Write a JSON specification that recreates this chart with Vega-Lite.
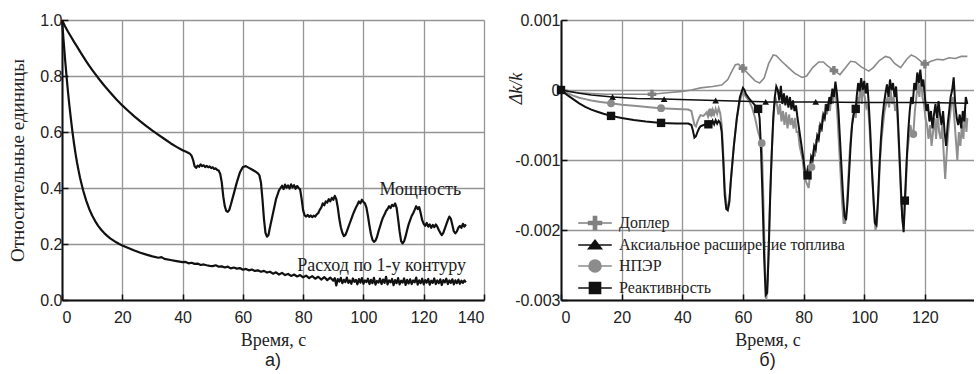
{
  "$schema": "https://vega.github.io/schema/vega-lite/v6.json",
  "background": "white",
  "padding": {"left": 8, "top": 12, "right": 0, "bottom": 0},
  "spacing": 77,
  "bounds": "flush",
  "config": {
    "view": {"stroke": null},
    "axis": {
      "grid": true, "gridColor": "#959595", "gridWidth": 1.3,
      "domainColor": "#111", "domainWidth": 2,
      "ticks": true, "tickSize": -6, "tickColor": "#111", "tickWidth": 1.5,
      "labelFont": "Liberation Sans", "labelFontSize": 16, "labelColor": "#222",
      "titleFont": "Liberation Serif, Times New Roman, DejaVu Serif, serif", "titleFontSize": 18, "titleFontWeight": "normal", "titleColor": "#222"
    },
    "legend": {"orient": "none", "legendX": 524, "legendY": 194, "padding": 0, "rowPadding": 3, "labelOffset": 15,
               "labelFont": "Liberation Serif, Times New Roman, DejaVu Serif, serif", "labelFontSize": 16, "labelColor": "#222", "labelLimit": 400,
               "symbolSize": 256, "symbolStrokeWidth": 1.6, "title": null},
    "title": {"font": "Liberation Sans", "fontSize": 18, "fontWeight": "normal", "color": "#222", "orient": "bottom", "offset": 3}
  },
  "datasets": {
    "left": [
      {"s":"P","t":0,"v":1.0},{"s":"P","t":1,"v":0.978},{"s":"P","t":2,"v":0.958},{"s":"P","t":3,"v":0.94},{"s":"P","t":4,"v":0.922},{"s":"P","t":5,"v":0.905},{"s":"P","t":6,"v":0.887},{"s":"P","t":7,"v":0.87},{"s":"P","t":8,"v":0.853},{"s":"P","t":9,"v":0.837},{"s":"P","t":10,"v":0.822},{"s":"P","t":12,"v":0.793},{"s":"P","t":14,"v":0.766},{"s":"P","t":16,"v":0.741},{"s":"P","t":18,"v":0.717},{"s":"P","t":20,"v":0.695},{"s":"P","t":22,"v":0.675},{"s":"P","t":24,"v":0.656},{"s":"P","t":26,"v":0.638},{"s":"P","t":28,"v":0.621},{"s":"P","t":30,"v":0.605},{"s":"P","t":32,"v":0.59},{"s":"P","t":34,"v":0.575},{"s":"P","t":36,"v":0.56},{"s":"P","t":38,"v":0.547},{"s":"P","t":40,"v":0.535},{"s":"P","t":41,"v":0.53},{"s":"P","t":42,"v":0.525},{"s":"P","t":42.5,"v":0.522},{"s":"P","t":43,"v":0.515},{"s":"P","t":43.5,"v":0.5},{"s":"P","t":44,"v":0.478},{"s":"P","t":44.5,"v":0.472},{"s":"P","t":45,"v":0.48},{"s":"P","t":45.5,"v":0.476},{"s":"P","t":46,"v":0.484},{"s":"P","t":46.5,"v":0.478},{"s":"P","t":47,"v":0.481},{"s":"P","t":47.5,"v":0.475},{"s":"P","t":48,"v":0.479},{"s":"P","t":48.5,"v":0.474},{"s":"P","t":49,"v":0.477},{"s":"P","t":49.5,"v":0.471},{"s":"P","t":50,"v":0.474},{"s":"P","t":50.5,"v":0.468},{"s":"P","t":51,"v":0.47},{"s":"P","t":51.5,"v":0.464},{"s":"P","t":52,"v":0.462},{"s":"P","t":52.5,"v":0.45},{"s":"P","t":53,"v":0.42},{"s":"P","t":53.5,"v":0.37},{"s":"P","t":54,"v":0.335},{"s":"P","t":54.5,"v":0.318},{"s":"P","t":55,"v":0.315},{"s":"P","t":55.5,"v":0.322},{"s":"P","t":56,"v":0.34},{"s":"P","t":57,"v":0.38},{"s":"P","t":58,"v":0.42},{"s":"P","t":59,"v":0.455},{"s":"P","t":60,"v":0.475},{"s":"P","t":61,"v":0.478},{"s":"P","t":62,"v":0.472},{"s":"P","t":63,"v":0.466},{"s":"P","t":64,"v":0.46},{"s":"P","t":65,"v":0.452},{"s":"P","t":65.5,"v":0.445},{"s":"P","t":66,"v":0.42},{"s":"P","t":66.5,"v":0.36},{"s":"P","t":67,"v":0.29},{"s":"P","t":67.5,"v":0.24},{"s":"P","t":68,"v":0.226},{"s":"P","t":68.5,"v":0.232},{"s":"P","t":69,"v":0.26},{"s":"P","t":70,"v":0.31},{"s":"P","t":71,"v":0.36},{"s":"P","t":72,"v":0.392},{"s":"P","t":72.5,"v":0.4},{"s":"P","t":73,"v":0.408},{"s":"P","t":73.5,"v":0.396},{"s":"P","t":74,"v":0.412},{"s":"P","t":74.5,"v":0.401},{"s":"P","t":75,"v":0.409},{"s":"P","t":75.5,"v":0.398},{"s":"P","t":76,"v":0.413},{"s":"P","t":76.5,"v":0.402},{"s":"P","t":77,"v":0.41},{"s":"P","t":77.5,"v":0.397},{"s":"P","t":78,"v":0.407},{"s":"P","t":78.5,"v":0.4},{"s":"P","t":79,"v":0.395},{"s":"P","t":79.5,"v":0.36},{"s":"P","t":80,"v":0.32},{"s":"P","t":80.5,"v":0.302},{"s":"P","t":81,"v":0.298},{"s":"P","t":81.5,"v":0.304},{"s":"P","t":82,"v":0.297},{"s":"P","t":82.5,"v":0.302},{"s":"P","t":83,"v":0.296},{"s":"P","t":83.5,"v":0.301},{"s":"P","t":84,"v":0.298},{"s":"P","t":84.5,"v":0.306},{"s":"P","t":85,"v":0.31},{"s":"P","t":85.5,"v":0.322},{"s":"P","t":86,"v":0.33},{"s":"P","t":86.5,"v":0.345},{"s":"P","t":87,"v":0.338},{"s":"P","t":87.5,"v":0.352},{"s":"P","t":88,"v":0.348},{"s":"P","t":88.5,"v":0.36},{"s":"P","t":89,"v":0.352},{"s":"P","t":89.5,"v":0.365},{"s":"P","t":90,"v":0.358},{"s":"P","t":90.5,"v":0.372},{"s":"P","t":91,"v":0.36},{"s":"P","t":91.5,"v":0.33},{"s":"P","t":92,"v":0.29},{"s":"P","t":92.5,"v":0.26},{"s":"P","t":93,"v":0.24},{"s":"P","t":93.5,"v":0.228},{"s":"P","t":94,"v":0.232},{"s":"P","t":94.5,"v":0.245},{"s":"P","t":95,"v":0.26},{"s":"P","t":95.5,"v":0.275},{"s":"P","t":96,"v":0.29},{"s":"P","t":96.5,"v":0.305},{"s":"P","t":97,"v":0.318},{"s":"P","t":97.5,"v":0.33},{"s":"P","t":98,"v":0.34},{"s":"P","t":98.5,"v":0.352},{"s":"P","t":99,"v":0.345},{"s":"P","t":99.5,"v":0.358},{"s":"P","t":100,"v":0.35},{"s":"P","t":100.5,"v":0.345},{"s":"P","t":101,"v":0.33},{"s":"P","t":101.5,"v":0.3},{"s":"P","t":102,"v":0.265},{"s":"P","t":102.5,"v":0.235},{"s":"P","t":103,"v":0.215},{"s":"P","t":103.5,"v":0.208},{"s":"P","t":104,"v":0.212},{"s":"P","t":104.5,"v":0.225},{"s":"P","t":105,"v":0.245},{"s":"P","t":105.5,"v":0.262},{"s":"P","t":106,"v":0.28},{"s":"P","t":106.5,"v":0.295},{"s":"P","t":107,"v":0.305},{"s":"P","t":107.5,"v":0.318},{"s":"P","t":108,"v":0.325},{"s":"P","t":108.5,"v":0.335},{"s":"P","t":109,"v":0.328},{"s":"P","t":109.5,"v":0.34},{"s":"P","t":110,"v":0.335},{"s":"P","t":110.5,"v":0.345},{"s":"P","t":111,"v":0.33},{"s":"P","t":111.5,"v":0.29},{"s":"P","t":112,"v":0.245},{"s":"P","t":112.5,"v":0.21},{"s":"P","t":113,"v":0.202},{"s":"P","t":113.5,"v":0.21},{"s":"P","t":114,"v":0.228},{"s":"P","t":114.5,"v":0.25},{"s":"P","t":115,"v":0.27},{"s":"P","t":115.5,"v":0.285},{"s":"P","t":116,"v":0.3},{"s":"P","t":116.5,"v":0.31},{"s":"P","t":117,"v":0.322},{"s":"P","t":117.5,"v":0.335},{"s":"P","t":118,"v":0.325},{"s":"P","t":118.5,"v":0.332},{"s":"P","t":119,"v":0.31},{"s":"P","t":119.5,"v":0.285},{"s":"P","t":120,"v":0.272},{"s":"P","t":120.5,"v":0.265},{"s":"P","t":121,"v":0.275},{"s":"P","t":121.5,"v":0.262},{"s":"P","t":122,"v":0.27},{"s":"P","t":122.5,"v":0.258},{"s":"P","t":123,"v":0.268},{"s":"P","t":123.5,"v":0.26},{"s":"P","t":124,"v":0.27},{"s":"P","t":124.5,"v":0.262},{"s":"P","t":125,"v":0.25},{"s":"P","t":125.5,"v":0.24},{"s":"P","t":126,"v":0.232},{"s":"P","t":126.5,"v":0.24},{"s":"P","t":127,"v":0.255},{"s":"P","t":127.5,"v":0.27},{"s":"P","t":128,"v":0.285},{"s":"P","t":128.5,"v":0.298},{"s":"P","t":129,"v":0.29},{"s":"P","t":129.5,"v":0.268},{"s":"P","t":130,"v":0.245},{"s":"P","t":130.5,"v":0.238},{"s":"P","t":131,"v":0.245},{"s":"P","t":131.5,"v":0.258},{"s":"P","t":132,"v":0.265},{"s":"P","t":132.5,"v":0.258},{"s":"P","t":133,"v":0.272},{"s":"P","t":133.5,"v":0.262},{"s":"P","t":134,"v":0.27},
      {"s":"F","t":0,"v":1.0},{"s":"F","t":0.5,"v":0.93},{"s":"F","t":1,"v":0.862},{"s":"F","t":1.5,"v":0.8},{"s":"F","t":2,"v":0.742},{"s":"F","t":2.5,"v":0.69},{"s":"F","t":3,"v":0.642},{"s":"F","t":3.5,"v":0.598},{"s":"F","t":4,"v":0.558},{"s":"F","t":4.5,"v":0.522},{"s":"F","t":5,"v":0.49},{"s":"F","t":5.5,"v":0.462},{"s":"F","t":6,"v":0.436},{"s":"F","t":7,"v":0.392},{"s":"F","t":8,"v":0.356},{"s":"F","t":9,"v":0.326},{"s":"F","t":10,"v":0.302},{"s":"F","t":11,"v":0.282},{"s":"F","t":12,"v":0.265},{"s":"F","t":13,"v":0.251},{"s":"F","t":14,"v":0.239},{"s":"F","t":15,"v":0.229},{"s":"F","t":16,"v":0.22},{"s":"F","t":17,"v":0.213},{"s":"F","t":18,"v":0.206},{"s":"F","t":19,"v":0.2},{"s":"F","t":20,"v":0.195},{"s":"F","t":22,"v":0.186},{"s":"F","t":24,"v":0.177},{"s":"F","t":26,"v":0.169},{"s":"F","t":28,"v":0.162},{"s":"F","t":30,"v":0.156},{"s":"F","t":32,"v":0.151},{"s":"F","t":33,"v":0.153},{"s":"F","t":34,"v":0.147},{"s":"F","t":36,"v":0.143},{"s":"F","t":38,"v":0.139},{"s":"F","t":40,"v":0.135},{"s":"F","t":41,"v":0.136},{"s":"F","t":42,"v":0.131},{"s":"F","t":43,"v":0.133},{"s":"F","t":44,"v":0.129},{"s":"F","t":45,"v":0.13},{"s":"F","t":46,"v":0.125},{"s":"F","t":47,"v":0.127},{"s":"F","t":48,"v":0.124},{"s":"F","t":49,"v":0.122},{"s":"F","t":50,"v":0.121},{"s":"F","t":51,"v":0.124},{"s":"F","t":52,"v":0.119},{"s":"F","t":53,"v":0.12},{"s":"F","t":54,"v":0.116},{"s":"F","t":55,"v":0.119},{"s":"F","t":56,"v":0.113},{"s":"F","t":57,"v":0.116},{"s":"F","t":58,"v":0.112},{"s":"F","t":59,"v":0.114},{"s":"F","t":60,"v":0.108},{"s":"F","t":61,"v":0.111},{"s":"F","t":62,"v":0.106},{"s":"F","t":63,"v":0.109},{"s":"F","t":64,"v":0.104},{"s":"F","t":65,"v":0.106},{"s":"F","t":66,"v":0.101},{"s":"F","t":67,"v":0.104},{"s":"F","t":68,"v":0.098},{"s":"F","t":69,"v":0.101},{"s":"F","t":70,"v":0.094},{"s":"F","t":71,"v":0.099},{"s":"F","t":72,"v":0.091},{"s":"F","t":73,"v":0.097},{"s":"F","t":74,"v":0.089},{"s":"F","t":75,"v":0.093},{"s":"F","t":76,"v":0.086},{"s":"F","t":77,"v":0.091},{"s":"F","t":78,"v":0.084},{"s":"F","t":79,"v":0.089},{"s":"F","t":80,"v":0.081},{"s":"F","t":81,"v":0.087},{"s":"F","t":82,"v":0.078},{"s":"F","t":83,"v":0.085},{"s":"F","t":84,"v":0.076},{"s":"F","t":85,"v":0.083},{"s":"F","t":86,"v":0.073},{"s":"F","t":87,"v":0.082},{"s":"F","t":88,"v":0.071},{"s":"F","t":89,"v":0.08},{"s":"F","t":90,"v":0.069},{"s":"F","t":90.5,"v":0.078},{"s":"F","t":91,"v":0.052},{"s":"F","t":91.5,"v":0.075},{"s":"F","t":92,"v":0.066},{"s":"F","t":92.5,"v":0.079},{"s":"F","t":93,"v":0.06},{"s":"F","t":93.5,"v":0.072},{"s":"F","t":94,"v":0.064},{"s":"F","t":94.5,"v":0.08},{"s":"F","t":95,"v":0.061},{"s":"F","t":95.5,"v":0.07},{"s":"F","t":96,"v":0.058},{"s":"F","t":96.5,"v":0.077},{"s":"F","t":97,"v":0.065},{"s":"F","t":97.5,"v":0.072},{"s":"F","t":98,"v":0.056},{"s":"F","t":98.5,"v":0.075},{"s":"F","t":99,"v":0.062},{"s":"F","t":99.5,"v":0.078},{"s":"F","t":100,"v":0.058},{"s":"F","t":100.5,"v":0.07},{"s":"F","t":101,"v":0.064},{"s":"F","t":101.5,"v":0.076},{"s":"F","t":102,"v":0.057},{"s":"F","t":102.5,"v":0.072},{"s":"F","t":103,"v":0.06},{"s":"F","t":103.5,"v":0.079},{"s":"F","t":104,"v":0.055},{"s":"F","t":104.5,"v":0.068},{"s":"F","t":105,"v":0.062},{"s":"F","t":105.5,"v":0.076},{"s":"F","t":106,"v":0.057},{"s":"F","t":106.5,"v":0.073},{"s":"F","t":107,"v":0.061},{"s":"F","t":107.5,"v":0.083},{"s":"F","t":108,"v":0.056},{"s":"F","t":108.5,"v":0.07},{"s":"F","t":109,"v":0.063},{"s":"F","t":109.5,"v":0.075},{"s":"F","t":110,"v":0.053},{"s":"F","t":110.5,"v":0.071},{"s":"F","t":111,"v":0.06},{"s":"F","t":111.5,"v":0.078},{"s":"F","t":112,"v":0.056},{"s":"F","t":112.5,"v":0.069},{"s":"F","t":113,"v":0.062},{"s":"F","t":113.5,"v":0.077},{"s":"F","t":114,"v":0.054},{"s":"F","t":114.5,"v":0.072},{"s":"F","t":115,"v":0.059},{"s":"F","t":115.5,"v":0.074},{"s":"F","t":116,"v":0.057},{"s":"F","t":116.5,"v":0.07},{"s":"F","t":117,"v":0.063},{"s":"F","t":117.5,"v":0.08},{"s":"F","t":118,"v":0.055},{"s":"F","t":118.5,"v":0.07},{"s":"F","t":119,"v":0.06},{"s":"F","t":119.5,"v":0.076},{"s":"F","t":120,"v":0.056},{"s":"F","t":120.5,"v":0.071},{"s":"F","t":121,"v":0.062},{"s":"F","t":121.5,"v":0.075},{"s":"F","t":122,"v":0.055},{"s":"F","t":122.5,"v":0.069},{"s":"F","t":123,"v":0.061},{"s":"F","t":123.5,"v":0.077},{"s":"F","t":124,"v":0.057},{"s":"F","t":124.5,"v":0.07},{"s":"F","t":125,"v":0.06},{"s":"F","t":125.5,"v":0.074},{"s":"F","t":126,"v":0.054},{"s":"F","t":126.5,"v":0.071},{"s":"F","t":127,"v":0.063},{"s":"F","t":127.5,"v":0.076},{"s":"F","t":128,"v":0.057},{"s":"F","t":128.5,"v":0.07},{"s":"F","t":129,"v":0.061},{"s":"F","t":129.5,"v":0.074},{"s":"F","t":130,"v":0.056},{"s":"F","t":130.5,"v":0.07},{"s":"F","t":131,"v":0.06},{"s":"F","t":131.5,"v":0.073},{"s":"F","t":132,"v":0.058},{"s":"F","t":132.5,"v":0.069},{"s":"F","t":133,"v":0.061},{"s":"F","t":133.5,"v":0.07},{"s":"F","t":134,"v":0.063}
    ],
    "right": [
      {"s":"D","t":0,"v":0},{"s":"D","t":3,"v":-0.00002},{"s":"D","t":6,"v":-0.00004},{"s":"D","t":10,"v":-0.00005},{"s":"D","t":15,"v":-0.00006},{"s":"D","t":20,"v":-0.00006},{"s":"D","t":25,"v":-0.00006},{"s":"D","t":30,"v":-0.00006},{"s":"D","t":35,"v":-0.00004},{"s":"D","t":40,"v":-0.00002},{"s":"D","t":43,"v":0.0},{"s":"D","t":46,"v":0.00003},{"s":"D","t":50,"v":0.00005},{"s":"D","t":53,"v":0.00007},{"s":"D","t":55,"v":0.00015},{"s":"D","t":56.5,"v":0.00028},{"s":"D","t":57.5,"v":0.00036},{"s":"D","t":58.5,"v":0.00037},{"s":"D","t":60,"v":0.00031},{"s":"D","t":62,"v":0.00022},{"s":"D","t":64,"v":0.00013},{"s":"D","t":65.5,"v":0.0001},{"s":"D","t":67,"v":0.00017},{"s":"D","t":68.5,"v":0.00038},{"s":"D","t":70,"v":0.0005},{"s":"D","t":71,"v":0.00049},{"s":"D","t":73,"v":0.0004},{"s":"D","t":75,"v":0.00032},{"s":"D","t":77,"v":0.00024},{"s":"D","t":79.5,"v":0.00018},{"s":"D","t":81,"v":0.0002},{"s":"D","t":83,"v":0.00032},{"s":"D","t":85,"v":0.0004},{"s":"D","t":86.5,"v":0.0004},{"s":"D","t":88,"v":0.00034},{"s":"D","t":90,"v":0.00028},{"s":"D","t":92,"v":0.00022},{"s":"D","t":94,"v":0.00033},{"s":"D","t":95.5,"v":0.00041},{"s":"D","t":97,"v":0.0004},{"s":"D","t":99,"v":0.00033},{"s":"D","t":101.5,"v":0.00027},{"s":"D","t":103,"v":0.00032},{"s":"D","t":105,"v":0.00042},{"s":"D","t":107,"v":0.00048},{"s":"D","t":108.5,"v":0.00046},{"s":"D","t":110,"v":0.00038},{"s":"D","t":112,"v":0.00032},{"s":"D","t":114,"v":0.00044},{"s":"D","t":115.5,"v":0.0005},{"s":"D","t":117,"v":0.00047},{"s":"D","t":119,"v":0.0004},{"s":"D","t":120,"v":0.00037},{"s":"D","t":122,"v":0.00041},{"s":"D","t":124,"v":0.00044},{"s":"D","t":126,"v":0.00043},{"s":"D","t":128,"v":0.00046},{"s":"D","t":130,"v":0.00045},{"s":"D","t":132,"v":0.00048},{"s":"D","t":134,"v":0.00048},
      {"s":"A","t":0,"v":0},{"s":"A","t":5,"v":-0.00004},{"s":"A","t":10,"v":-0.00007},{"s":"A","t":17,"v":-0.0001},{"s":"A","t":25,"v":-0.00012},{"s":"A","t":34,"v":-0.00013},{"s":"A","t":42,"v":-0.00014},{"s":"A","t":51,"v":-0.00015},{"s":"A","t":60,"v":-0.00016},{"s":"A","t":67.5,"v":-0.00017},{"s":"A","t":75,"v":-0.00017},{"s":"A","t":84,"v":-0.00017},{"s":"A","t":100,"v":-0.00018},{"s":"A","t":120,"v":-0.00018},{"s":"A","t":134,"v":-0.00019},
      {"s":"N","t":0,"v":0},{"s":"N","t":2,"v":-0.00004},{"s":"N","t":4,"v":-0.00008},{"s":"N","t":6,"v":-0.00011},{"s":"N","t":8,"v":-0.00013},{"s":"N","t":10,"v":-0.00015},{"s":"N","t":13,"v":-0.00017},{"s":"N","t":16.5,"v":-0.00019},{"s":"N","t":20,"v":-0.00021},{"s":"N","t":25,"v":-0.00023},{"s":"N","t":30,"v":-0.00025},{"s":"N","t":33,"v":-0.00026},{"s":"N","t":38,"v":-0.00027},{"s":"N","t":42,"v":-0.00028},{"s":"N","t":43,"v":-0.0003},{"s":"N","t":43.5,"v":-0.0004},{"s":"N","t":44,"v":-0.0005},{"s":"N","t":44.5,"v":-0.00052},{"s":"N","t":45,"v":-0.00045},{"s":"N","t":45.5,"v":-0.0004},{"s":"N","t":46,"v":-0.00036},{"s":"N","t":47,"v":-0.00037},{"s":"N","t":48,"v":-0.00032},{"s":"N","t":48.5,"v":-0.00038},{"s":"N","t":49,"v":-0.0003},{"s":"N","t":49.5,"v":-0.00036},{"s":"N","t":50,"v":-0.00028},{"s":"N","t":50.5,"v":-0.00035},{"s":"N","t":51,"v":-0.00027},{"s":"N","t":51.5,"v":-0.00034},{"s":"N","t":52,"v":-0.00026},{"s":"N","t":52.5,"v":-0.00033},{"s":"N","t":53,"v":-0.0005},{"s":"N","t":53.5,"v":-0.0009},{"s":"N","t":54,"v":-0.0014},{"s":"N","t":54.5,"v":-0.0016},{"s":"N","t":55,"v":-0.0017},{"s":"N","t":55.5,"v":-0.0016},{"s":"N","t":56,"v":-0.0013},{"s":"N","t":57,"v":-0.0008},{"s":"N","t":58,"v":-0.0004},{"s":"N","t":59,"v":-0.00015},{"s":"N","t":60,"v":-0.00003},{"s":"N","t":61,"v":-0.0001},{"s":"N","t":62,"v":-0.00015},{"s":"N","t":63,"v":-0.00025},{"s":"N","t":64,"v":-0.0004},{"s":"N","t":65,"v":-0.0006},{"s":"N","t":66.2,"v":-0.00076},{"s":"N","t":66.7,"v":-0.0015},{"s":"N","t":67.2,"v":-0.0024},{"s":"N","t":67.7,"v":-0.003},{"s":"N","t":68.2,"v":-0.0027},{"s":"N","t":68.7,"v":-0.0019},{"s":"N","t":69.2,"v":-0.0012},{"s":"N","t":69.7,"v":-0.0007},{"s":"N","t":70.2,"v":-0.0003},{"s":"N","t":70.7,"v":-0.0001},{"s":"N","t":71.2,"v":-0.0002},{"s":"N","t":71.7,"v":-0.00035},{"s":"N","t":72.2,"v":-0.0002},{"s":"N","t":72.7,"v":-0.00045},{"s":"N","t":73.2,"v":-0.0003},{"s":"N","t":73.7,"v":-0.0005},{"s":"N","t":74.2,"v":-0.00032},{"s":"N","t":74.7,"v":-0.00055},{"s":"N","t":75.2,"v":-0.00035},{"s":"N","t":75.7,"v":-0.0005},{"s":"N","t":76.2,"v":-0.0004},{"s":"N","t":76.7,"v":-0.00055},{"s":"N","t":77.2,"v":-0.0004},{"s":"N","t":77.7,"v":-0.0006},{"s":"N","t":78.2,"v":-0.0006},{"s":"N","t":78.7,"v":-0.0008},{"s":"N","t":79.2,"v":-0.0009},{"s":"N","t":79.7,"v":-0.001},{"s":"N","t":80.2,"v":-0.0012},{"s":"N","t":80.7,"v":-0.0013},{"s":"N","t":81.2,"v":-0.00135},{"s":"N","t":81.7,"v":-0.0014},{"s":"N","t":82.2,"v":-0.00115},{"s":"N","t":82.6,"v":-0.0011},{"s":"N","t":83.2,"v":-0.0009},{"s":"N","t":83.7,"v":-0.00095},{"s":"N","t":84.2,"v":-0.0007},{"s":"N","t":84.7,"v":-0.00075},{"s":"N","t":85.2,"v":-0.0005},{"s":"N","t":85.7,"v":-0.0006},{"s":"N","t":86.2,"v":-0.0004},{"s":"N","t":86.7,"v":-0.00045},{"s":"N","t":87.2,"v":-0.0002},{"s":"N","t":87.7,"v":-0.00035},{"s":"N","t":88.2,"v":-0.00015},{"s":"N","t":88.7,"v":-0.0003},{"s":"N","t":89.2,"v":-0.00005},{"s":"N","t":89.7,"v":-0.0002},{"s":"N","t":90.2,"v":0.0},{"s":"N","t":90.7,"v":-0.0001},{"s":"N","t":91.2,"v":-0.0004},{"s":"N","t":91.7,"v":-0.0008},{"s":"N","t":92.2,"v":-0.0012},{"s":"N","t":92.7,"v":-0.0016},{"s":"N","t":93.2,"v":-0.0019},{"s":"N","t":93.7,"v":-0.0019},{"s":"N","t":94.2,"v":-0.0017},{"s":"N","t":94.7,"v":-0.0013},{"s":"N","t":95.2,"v":-0.0009},{"s":"N","t":95.7,"v":-0.0006},{"s":"N","t":96.2,"v":-0.0004},{"s":"N","t":96.7,"v":-0.0003},{"s":"N","t":97.2,"v":-0.0004},{"s":"N","t":97.7,"v":-0.0001},{"s":"N","t":98.2,"v":-0.0002},{"s":"N","t":98.7,"v":0.0001},{"s":"N","t":99.2,"v":-0.0002},{"s":"N","t":99.5,"v":0.0},{"s":"N","t":100.2,"v":-0.0001},{"s":"N","t":100.7,"v":-0.00025},{"s":"N","t":101.2,"v":-0.0002},{"s":"N","t":101.7,"v":-0.0005},{"s":"N","t":102.2,"v":-0.0009},{"s":"N","t":102.7,"v":-0.0013},{"s":"N","t":103.2,"v":-0.0017},{"s":"N","t":103.7,"v":-0.002},{"s":"N","t":104.2,"v":-0.0019},{"s":"N","t":104.7,"v":-0.0015},{"s":"N","t":105.2,"v":-0.001},{"s":"N","t":105.7,"v":-0.0007},{"s":"N","t":106.2,"v":-0.0005},{"s":"N","t":106.7,"v":-0.0003},{"s":"N","t":107.2,"v":-0.0002},{"s":"N","t":107.7,"v":-0.0001},{"s":"N","t":108.2,"v":-0.00025},{"s":"N","t":108.7,"v":0.0},{"s":"N","t":109.2,"v":-0.0002},{"s":"N","t":109.7,"v":-0.0001},{"s":"N","t":110.2,"v":-0.0003},{"s":"N","t":110.7,"v":-0.0002},{"s":"N","t":111.2,"v":-0.0006},{"s":"N","t":111.7,"v":-0.0011},{"s":"N","t":112.2,"v":-0.0016},{"s":"N","t":112.7,"v":-0.0019},{"s":"N","t":113.2,"v":-0.0018},{"s":"N","t":113.7,"v":-0.0014},{"s":"N","t":114.2,"v":-0.0009},{"s":"N","t":114.7,"v":-0.0007},{"s":"N","t":115.2,"v":-0.0005},{"s":"N","t":115.7,"v":-0.0006},{"s":"N","t":116.2,"v":-0.00063},{"s":"N","t":116.7,"v":-0.0003},{"s":"N","t":117.2,"v":-0.0001},{"s":"N","t":117.7,"v":0.0001},{"s":"N","t":118.2,"v":-0.0001},{"s":"N","t":118.7,"v":0.0002},{"s":"N","t":119.2,"v":-0.0001},{"s":"N","t":119.7,"v":-0.0002},{"s":"N","t":120.2,"v":-0.0004},{"s":"N","t":120.7,"v":-0.0005},{"s":"N","t":121.2,"v":-0.0007},{"s":"N","t":121.7,"v":-0.0005},{"s":"N","t":122.2,"v":-0.0008},{"s":"N","t":122.7,"v":-0.0006},{"s":"N","t":123.2,"v":-0.0004},{"s":"N","t":123.7,"v":-0.0007},{"s":"N","t":124.2,"v":-0.0003},{"s":"N","t":124.7,"v":-0.0006},{"s":"N","t":125.2,"v":-0.0007},{"s":"N","t":125.7,"v":-0.0005},{"s":"N","t":126.2,"v":-0.0009},{"s":"N","t":126.7,"v":-0.00127},{"s":"N","t":127.2,"v":-0.0009},{"s":"N","t":127.7,"v":-0.0006},{"s":"N","t":128.2,"v":-0.0004},{"s":"N","t":128.7,"v":-0.0002},{"s":"N","t":129.2,"v":-0.0001},{"s":"N","t":129.7,"v":-0.0004},{"s":"N","t":130.2,"v":-0.0007},{"s":"N","t":130.7,"v":-0.001},{"s":"N","t":131.2,"v":-0.0006},{"s":"N","t":131.7,"v":-0.0008},{"s":"N","t":132.2,"v":-0.0005},{"s":"N","t":132.7,"v":-0.0007},{"s":"N","t":133.2,"v":-0.0003},{"s":"N","t":133.7,"v":-0.0006},{"s":"N","t":134,"v":-0.0004},
      {"s":"R","t":0,"v":0},{"s":"R","t":2,"v":-0.00007},{"s":"R","t":4,"v":-0.00013},{"s":"R","t":6,"v":-0.00019},{"s":"R","t":8,"v":-0.00024},{"s":"R","t":10,"v":-0.00028},{"s":"R","t":12,"v":-0.00031},{"s":"R","t":14,"v":-0.00034},{"s":"R","t":16.5,"v":-0.00037},{"s":"R","t":20,"v":-0.0004},{"s":"R","t":24,"v":-0.00043},{"s":"R","t":28,"v":-0.00045},{"s":"R","t":33,"v":-0.00047},{"s":"R","t":38,"v":-0.00048},{"s":"R","t":42,"v":-0.00048},{"s":"R","t":43,"v":-0.0005},{"s":"R","t":43.5,"v":-0.00058},{"s":"R","t":44,"v":-0.00068},{"s":"R","t":44.5,"v":-0.00066},{"s":"R","t":45,"v":-0.0006},{"s":"R","t":45.5,"v":-0.00055},{"s":"R","t":46,"v":-0.00052},{"s":"R","t":47,"v":-0.0005},{"s":"R","t":48,"v":-0.00049},{"s":"R","t":48.6,"v":-0.00049},{"s":"R","t":49,"v":-0.00046},{"s":"R","t":49.5,"v":-0.0005},{"s":"R","t":50,"v":-0.00044},{"s":"R","t":50.5,"v":-0.00049},{"s":"R","t":51,"v":-0.00043},{"s":"R","t":51.5,"v":-0.00048},{"s":"R","t":52,"v":-0.00044},{"s":"R","t":52.5,"v":-0.00047},{"s":"R","t":53,"v":-0.0006},{"s":"R","t":53.5,"v":-0.001},{"s":"R","t":54,"v":-0.0015},{"s":"R","t":54.5,"v":-0.0017},{"s":"R","t":55,"v":-0.00172},{"s":"R","t":55.5,"v":-0.0016},{"s":"R","t":56,"v":-0.0013},{"s":"R","t":57,"v":-0.0008},{"s":"R","t":58,"v":-0.0004},{"s":"R","t":59,"v":-0.0001},{"s":"R","t":60,"v":0.00003},{"s":"R","t":60.5,"v":0.0},{"s":"R","t":61,"v":-0.00006},{"s":"R","t":62,"v":-0.00012},{"s":"R","t":63,"v":-0.00017},{"s":"R","t":64,"v":-0.00022},{"s":"R","t":65,"v":-0.00027},{"s":"R","t":65.5,"v":-0.0004},{"s":"R","t":66,"v":-0.0009},{"s":"R","t":66.5,"v":-0.0016},{"s":"R","t":67,"v":-0.0024},{"s":"R","t":67.5,"v":-0.00293},{"s":"R","t":68,"v":-0.0029},{"s":"R","t":68.5,"v":-0.0023},{"s":"R","t":69,"v":-0.0015},{"s":"R","t":69.5,"v":-0.0009},{"s":"R","t":70,"v":-0.0004},{"s":"R","t":70.5,"v":-0.0001},{"s":"R","t":71,"v":0.00005},{"s":"R","t":71.5,"v":0.0},{"s":"R","t":72,"v":-0.00015},{"s":"R","t":72.5,"v":0.00006},{"s":"R","t":73,"v":-0.0002},{"s":"R","t":73.5,"v":-0.00005},{"s":"R","t":74,"v":-0.00022},{"s":"R","t":74.5,"v":-0.00008},{"s":"R","t":75,"v":-0.00025},{"s":"R","t":75.5,"v":-0.0001},{"s":"R","t":76,"v":-0.00028},{"s":"R","t":76.5,"v":-0.00015},{"s":"R","t":77,"v":-0.0003},{"s":"R","t":77.5,"v":-0.00022},{"s":"R","t":78,"v":-0.0004},{"s":"R","t":78.5,"v":-0.00055},{"s":"R","t":79,"v":-0.0007},{"s":"R","t":79.5,"v":-0.00085},{"s":"R","t":80,"v":-0.001},{"s":"R","t":80.5,"v":-0.00118},{"s":"R","t":81,"v":-0.00122},{"s":"R","t":81.5,"v":-0.00108},{"s":"R","t":82,"v":-0.00115},{"s":"R","t":82.5,"v":-0.00095},{"s":"R","t":83,"v":-0.001},{"s":"R","t":83.5,"v":-0.0008},{"s":"R","t":84,"v":-0.00085},{"s":"R","t":84.5,"v":-0.00065},{"s":"R","t":85,"v":-0.0007},{"s":"R","t":85.5,"v":-0.0005},{"s":"R","t":86,"v":-0.00055},{"s":"R","t":86.5,"v":-0.00035},{"s":"R","t":87,"v":-0.0004},{"s":"R","t":87.5,"v":-0.0002},{"s":"R","t":88,"v":-0.0003},{"s":"R","t":88.5,"v":-0.0001},{"s":"R","t":89,"v":-0.0002},{"s":"R","t":89.5,"v":0.00002},{"s":"R","t":90,"v":-0.0001},{"s":"R","t":90.5,"v":0.00012},{"s":"R","t":91,"v":-0.00005},{"s":"R","t":91.5,"v":-0.0003},{"s":"R","t":92,"v":-0.0007},{"s":"R","t":92.5,"v":-0.0011},{"s":"R","t":93,"v":-0.0015},{"s":"R","t":93.5,"v":-0.0018},{"s":"R","t":94,"v":-0.00186},{"s":"R","t":94.5,"v":-0.0016},{"s":"R","t":95,"v":-0.0012},{"s":"R","t":95.5,"v":-0.0008},{"s":"R","t":96,"v":-0.0005},{"s":"R","t":96.5,"v":-0.00035},{"s":"R","t":97.2,"v":-0.00027},{"s":"R","t":97.5,"v":-0.0001},{"s":"R","t":98,"v":0.0001},{"s":"R","t":98.5,"v":-0.00002},{"s":"R","t":99,"v":0.00017},{"s":"R","t":99.5,"v":0.0},{"s":"R","t":100,"v":0.00013},{"s":"R","t":100.5,"v":-0.00005},{"s":"R","t":101,"v":0.0001},{"s":"R","t":101.5,"v":-0.0002},{"s":"R","t":102,"v":-0.0006},{"s":"R","t":102.5,"v":-0.0011},{"s":"R","t":103,"v":-0.0015},{"s":"R","t":103.5,"v":-0.0019},{"s":"R","t":104,"v":-0.00193},{"s":"R","t":104.5,"v":-0.0016},{"s":"R","t":105,"v":-0.0011},{"s":"R","t":105.5,"v":-0.0007},{"s":"R","t":106,"v":-0.0004},{"s":"R","t":106.5,"v":-0.0002},{"s":"R","t":107,"v":-0.00005},{"s":"R","t":107.5,"v":0.00008},{"s":"R","t":108,"v":-0.0001},{"s":"R","t":108.5,"v":0.00015},{"s":"R","t":109,"v":0.0},{"s":"R","t":109.5,"v":0.0001},{"s":"R","t":110,"v":-0.0001},{"s":"R","t":110.5,"v":0.00005},{"s":"R","t":111,"v":-0.0003},{"s":"R","t":111.5,"v":-0.0008},{"s":"R","t":112,"v":-0.0013},{"s":"R","t":112.5,"v":-0.0018},{"s":"R","t":113,"v":-0.00203},{"s":"R","t":113.4,"v":-0.00158},{"s":"R","t":114,"v":-0.001},{"s":"R","t":114.5,"v":-0.0006},{"s":"R","t":115,"v":-0.0003},{"s":"R","t":115.5,"v":-0.0001},{"s":"R","t":116,"v":-0.0002},{"s":"R","t":116.5,"v":0.0001},{"s":"R","t":117,"v":0.0},{"s":"R","t":117.5,"v":0.00025},{"s":"R","t":118,"v":0.0001},{"s":"R","t":118.5,"v":0.00029},{"s":"R","t":119,"v":0.00005},{"s":"R","t":119.5,"v":0.00015},{"s":"R","t":120,"v":-0.0001},{"s":"R","t":120.5,"v":-0.0003},{"s":"R","t":121,"v":-0.0002},{"s":"R","t":121.5,"v":-0.00045},{"s":"R","t":122,"v":-0.0003},{"s":"R","t":122.5,"v":-0.00055},{"s":"R","t":123,"v":-0.00035},{"s":"R","t":123.5,"v":-0.0002},{"s":"R","t":124,"v":-0.0004},{"s":"R","t":124.5,"v":-0.00016},{"s":"R","t":125,"v":-0.00035},{"s":"R","t":125.5,"v":-0.0005},{"s":"R","t":126,"v":-0.0003},{"s":"R","t":126.5,"v":-0.0006},{"s":"R","t":127,"v":-0.0008},{"s":"R","t":127.5,"v":-0.0005},{"s":"R","t":128,"v":-0.0003},{"s":"R","t":128.5,"v":-0.0001},{"s":"R","t":129,"v":0.0},{"s":"R","t":129.5,"v":0.00018},{"s":"R","t":130,"v":-0.0002},{"s":"R","t":130.5,"v":-0.0004},{"s":"R","t":131,"v":-0.0005},{"s":"R","t":131.5,"v":-0.00035},{"s":"R","t":132,"v":-0.00055},{"s":"R","t":132.5,"v":-0.0003},{"s":"R","t":133,"v":-0.00045},{"s":"R","t":133.5,"v":-0.0001},{"s":"R","t":134,"v":-0.0002}
    ],
    "marks": [
      {"s":"Доплер","t":30,"v":-0.00006},{"s":"Доплер","t":60,"v":0.00031},{"s":"Доплер","t":90,"v":0.00028},{"s":"Доплер","t":120,"v":0.00037},
      {"s":"Аксиальное расширение топлива","t":0,"v":0},{"s":"Аксиальное расширение топлива","t":17,"v":-0.0001},{"s":"Аксиальное расширение топлива","t":34,"v":-0.00013},{"s":"Аксиальное расширение топлива","t":51,"v":-0.00015},{"s":"Аксиальное расширение топлива","t":67.5,"v":-0.00017},{"s":"Аксиальное расширение топлива","t":84,"v":-0.00017},
      {"s":"НПЭР","t":0,"v":0},{"s":"НПЭР","t":16.5,"v":-0.00019},{"s":"НПЭР","t":33,"v":-0.00026},{"s":"НПЭР","t":49.5,"v":-0.00032},{"s":"НПЭР","t":66.2,"v":-0.00076},{"s":"НПЭР","t":82.6,"v":-0.0011},{"s":"НПЭР","t":116.2,"v":-0.00063},
      {"s":"Реактивность","t":0,"v":0},{"s":"Реактивность","t":16.5,"v":-0.00037},{"s":"Реактивность","t":33,"v":-0.00047},{"s":"Реактивность","t":48.6,"v":-0.00049},{"s":"Реактивность","t":65,"v":-0.00027},{"s":"Реактивность","t":81.3,"v":-0.00122},{"s":"Реактивность","t":97.2,"v":-0.00027},{"s":"Реактивность","t":113.4,"v":-0.00158}
    ]
  },
  "hconcat": [
    {
      "width": 422, "height": 280,
      "title": {"text": "а)"},
      "data": {"name": "left"},
      "encoding": {
        "x": {"field": "t", "type": "quantitative", "scale": {"domain": [0, 140], "nice": false},
              "axis": {"values": [0,20,40,60,80,100,120,140], "title": "Время, с", "labelPadding": 15, "titlePadding": 6}},
        "y": {"field": "v", "type": "quantitative", "scale": {"domain": [0, 1], "nice": false},
              "axis": {"values": [0,0.2,0.4,0.6,0.8,1.0], "format": ".1f", "title": "Относительные единицы", "titleFontSize": 19, "labelPadding": 6, "titlePadding": 12}}
      },
      "layer": [
        {"mark": {"type": "line", "color": "#111", "strokeWidth": 2.2, "strokeJoin": "round"}, "encoding": {"detail": {"field": "s"}}},
        {"transform": [{"filter": "datum.s == 'P' && datum.t == 0"}],
         "mark": {"type": "text", "font": "Liberation Serif, Times New Roman, DejaVu Serif, serif", "fontSize": 18, "align": "right", "baseline": "middle", "color": "#222"},
         "encoding": {"x": {"datum": 132.4}, "y": {"datum": 0.393}, "text": {"value": "Мощность"}}},
        {"transform": [{"filter": "datum.s == 'P' && datum.t == 0"}],
         "mark": {"type": "text", "font": "Liberation Serif, Times New Roman, DejaVu Serif, serif", "fontSize": 18, "align": "right", "baseline": "middle", "color": "#222"},
         "encoding": {"x": {"datum": 134}, "y": {"datum": 0.121}, "text": {"value": "Расход по 1-у контуру"}}}
      ]
    },
    {
      "width": 413, "height": 280,
      "title": {"text": "б)"},
      "encoding": {
        "x": {"field": "t", "type": "quantitative", "scale": {"domain": [0, 136.2], "nice": false},
              "axis": {"values": [0,20,40,60,80,100,120], "title": "Время, с", "labelPadding": 15, "titlePadding": 6}},
        "y": {"field": "v", "type": "quantitative", "scale": {"domain": [-0.003, 0.001], "nice": false},
              "axis": {"values": [-0.003,-0.002,-0.001,0,0.001], "labelExpr": "toString(round(datum.value*1000)/1000)", "title": "Δk/k", "titleFontStyle": "italic", "titleX": -36, "titleY": 68, "labelPadding": 7}}
      },
      "layer": [
        {"data": {"name": "right"}, "transform": [{"filter": "datum.s == 'D'"}], "mark": {"type": "line", "color": "#8a8a8a", "strokeWidth": 1.6}},
        {"data": {"name": "right"}, "transform": [{"filter": "datum.s == 'N'"}], "mark": {"type": "line", "color": "#8f8f8f", "strokeWidth": 2}},
        {"data": {"name": "right"}, "transform": [{"filter": "datum.s == 'A'"}], "mark": {"type": "line", "color": "#111", "strokeWidth": 1.5}},
        {"data": {"name": "right"}, "transform": [{"filter": "datum.s == 'R'"}], "mark": {"type": "line", "color": "#111", "strokeWidth": 2}},
        {"data": {"name": "marks"}, "transform": [{"filter": "datum.s == 'Доплер'"}], "mark": {"type": "point", "shape": "cross", "filled": true, "color": "#808080", "size": 75, "opacity": 1}},
        {"data": {"name": "marks"}, "transform": [{"filter": "datum.s == 'Аксиальное расширение топлива'"}], "mark": {"type": "point", "shape": "triangle-up", "filled": true, "color": "#111", "size": 45, "opacity": 1}},
        {"data": {"name": "marks"}, "transform": [{"filter": "datum.s == 'НПЭР'"}], "mark": {"type": "point", "shape": "circle", "filled": true, "color": "#8c8c8c", "size": 60, "opacity": 1}},
        {"data": {"name": "marks"}, "transform": [{"filter": "datum.s == 'Реактивность'"}], "mark": {"type": "point", "shape": "square", "filled": true, "color": "#111", "size": 70, "opacity": 1}},
        {"data": {"name": "marks"}, "transform": [{"filter": "false"}],
         "mark": {"type": "point", "filled": true, "size": 256, "strokeWidth": 1.6, "opacity": 1},
         "encoding": {
           "color": {"field": "s", "type": "nominal",
                     "scale": {"domain": ["Доплер", "Аксиальное расширение топлива", "НПЭР", "Реактивность"], "range": ["#808080", "#111111", "#8c8c8c", "#111111"]},
                     "legend": {"title": null, "labelFont": "Liberation Serif, Times New Roman, DejaVu Serif, serif", "labelFontSize": 16}},
           "stroke": {"field": "s", "type": "nominal",
                      "scale": {"domain": ["Доплер", "Аксиальное расширение топлива", "НПЭР", "Реактивность"], "range": ["#808080", "#111111", "#8c8c8c", "#111111"]},
                      "legend": {"title": null, "labelFont": "Liberation Serif, Times New Roman, DejaVu Serif, serif", "labelFontSize": 16}},
           "shape": {"field": "s", "type": "nominal",
                     "scale": {"domain": ["Доплер", "Аксиальное расширение топлива", "НПЭР", "Реактивность"],
                               "range": ["M-2.1,0H2.1M-0.8,-0.19H-0.19V-0.8H0.19V-0.19H0.8V0.19H0.19V0.8H-0.19V0.19H-0.8Z", "M-2.1,0H2.1M0,-0.6L0.8,0.45H-0.8Z", "M-2.1,0H2.1M0.75,0A0.75,0.75,0,1,1,-0.75,0A0.75,0.75,0,1,1,0.75,0Z", "M-2.1,0H2.1M-0.69,-0.69H0.69V0.69H-0.69Z"]},
                     "legend": {"title": null, "labelFont": "Liberation Serif, Times New Roman, DejaVu Serif, serif", "labelFontSize": 16}}
         }}
      ]
    }
  ]
}
